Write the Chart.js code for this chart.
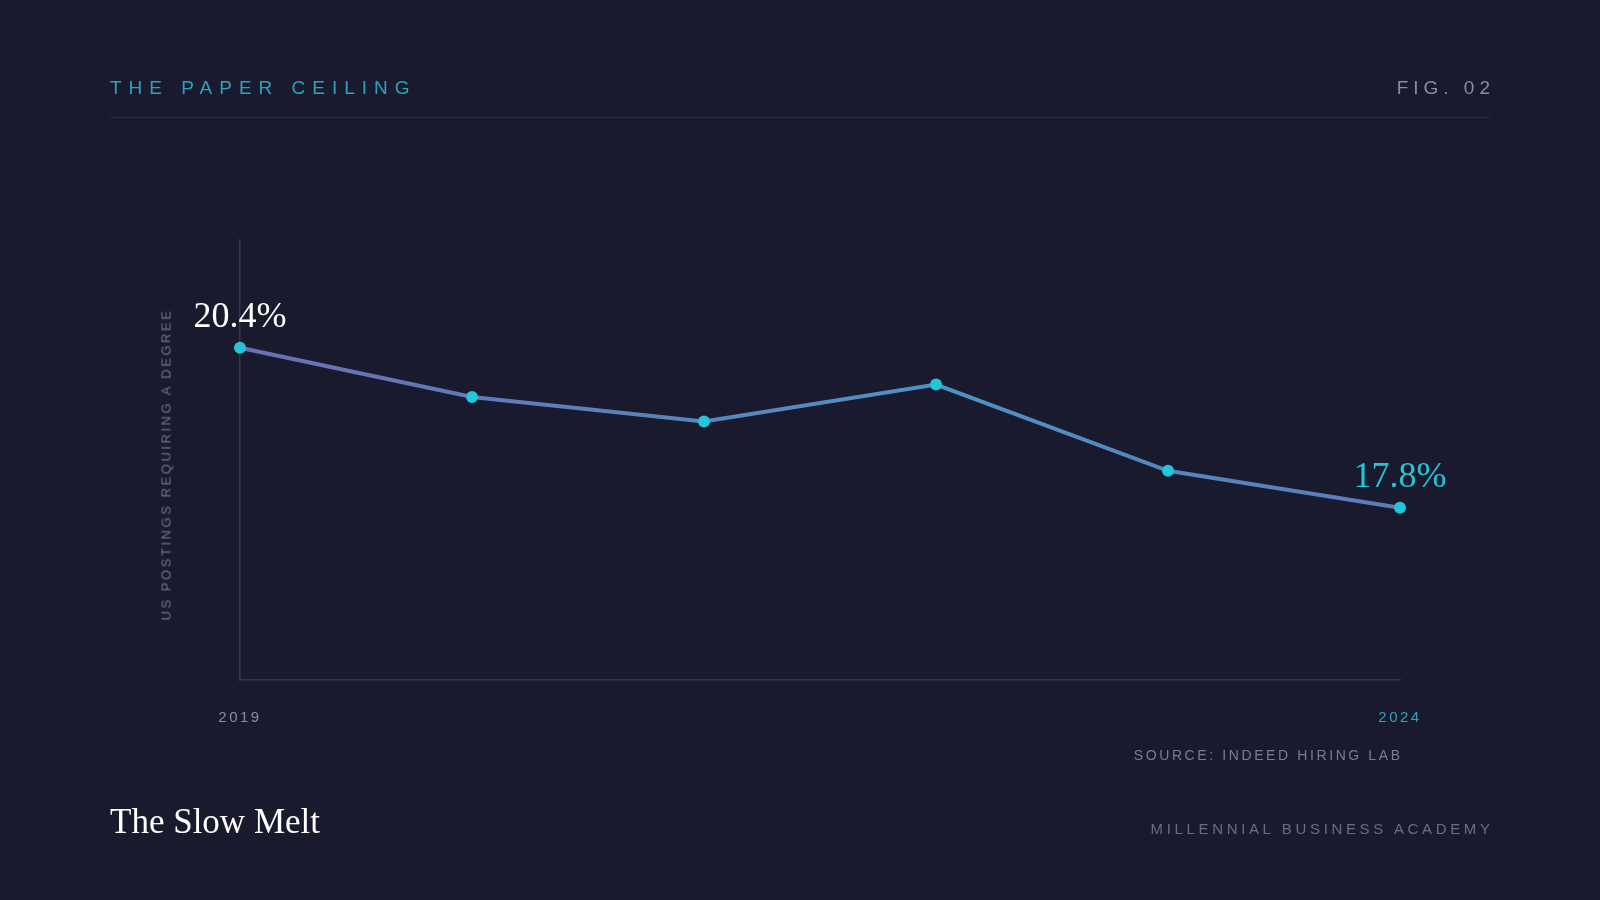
<!DOCTYPE html>
<html>
<head>
<meta charset="utf-8">
<title>The Slow Melt</title>
<script src="https://cdn.jsdelivr.net/npm/chart.js@4.4.0/dist/chart.umd.min.js"></script>
<style>
  html, body { margin: 0; padding: 0; background: #1a1a2e; }
  #page { position: relative; width: 1600px; height: 900px; overflow: hidden; background: #1a1a2e;
          font-family: "Liberation Sans", Arial, sans-serif; }
  #chart { position: absolute; left: 0; top: 0; }
  .txt { position: absolute; white-space: nowrap; line-height: 1; }
  #kicker { left: 110px; top: 78px; font-size: 19px; letter-spacing: 7px; color: #2aa3bf; }
  #fig { right: 110px; top: 78px; font-size: 19px; letter-spacing: 5px; margin-right: -5px; color: #8a8ca2; }
  #rule { position: absolute; left: 110px; top: 117px; width: 1380px; height: 1px; background: #2a2c42; }
  #ytitle { left: -34px; top: 457.5px; width: 400px; text-align: center; font-size: 13px; letter-spacing: 2.55px;
            color: #727489; transform: rotate(-90deg); }
  #source { right: 200px; top: 748px; font-size: 14px; letter-spacing: 2.6px; margin-right: -2.6px; color: #7a7c92; }
  #headline { left: 110px; top: 804px; font-family: "Liberation Serif", "Times New Roman", serif; font-size: 35px; color: #ffffff; }
  #brand { right: 110px; top: 821px; font-size: 15px; letter-spacing: 3.65px; margin-right: -3.65px; color: #6a6c84; }
</style>
</head>
<body>
<div id="page">
  <canvas id="chart" width="1600" height="900"></canvas>
  <div class="txt" id="kicker">THE PAPER CEILING</div>
  <div class="txt" id="fig">FIG. 02</div>
  <div id="rule"></div>
  <div class="txt" id="ytitle">US POSTINGS REQUIRING A DEGREE</div>
  <div class="txt" id="source">SOURCE: INDEED HIRING LAB</div>
  <div class="txt" id="headline">The Slow Melt</div>
  <div class="txt" id="brand">MILLENNIAL BUSINESS ACADEMY</div>
</div>
<script>
// data
const years = ['2019', '2020', '2021', '2022', '2023', '2024'];
const shares = [20.4, 19.6, 19.2, 19.8, 18.4, 17.8];
const yMin = 15;
const yMax = 22.15;

const TEAL = '#22c6d8';
const LABEL_TEAL = '#2aa3bf';
const GREY = '#8a8ca2';
const AXIS = '#34364f';

// horizontal gradient for the line
function lineGradient(ctx) {
    const chart = ctx.chart;
    const area = chart.chartArea;
    if (!area) return '#6a70b4';
    const g = chart.ctx.createLinearGradient(area.left, 0, area.right, 0);
    g.addColorStop(0, '#6b6fb0');
    g.addColorStop(0.62, '#4d92c4');
    g.addColorStop(1, '#5c7bb9');
    return g;
}

// tracking for the tick labels
const spacing = {
    id: 'spacing',
    beforeDraw(chart) { chart.ctx.letterSpacing = '2.5px'; }
};

// first / last value labels
const endLabels = {
    id: 'endLabels',
    afterDatasetsDraw(chart) {
        const meta = chart.getDatasetMeta(0);
        const ctx = chart.ctx;
        const last = meta.data.length - 1;
        ctx.save();
        ctx.letterSpacing = '0px';
        ctx.font = '36px "Liberation Serif", "Times New Roman", serif';
        ctx.textAlign = 'center';
        ctx.textBaseline = 'alphabetic';
        [0, last].forEach(i => {
            const p = meta.data[i];
            ctx.fillStyle = i === 0 ? '#ffffff' : TEAL;
            ctx.fillText(shares[i].toFixed(1) + '%', p.x, p.y - 21);
        });
        ctx.restore();
    }
};

const lastIdx = years.length - 1;

new Chart(document.getElementById('chart'), {
    type: 'line',
    data: {
        labels: years,
        datasets: [{
            data: shares,
            borderColor: lineGradient,
            borderWidth: 4,
            tension: 0,
            fill: false,
            pointRadius: 6,
            pointBorderWidth: 0,
            pointBackgroundColor: TEAL,
            pointHoverRadius: 6,
            clip: false
        }]
    },
    options: {
        responsive: false,
        animation: false,
        events: [],
        layout: { padding: { left: 240, right: 200, top: 240, bottom: 160 } },
        plugins: { legend: { display: false }, tooltip: { enabled: false } },
        scales: {
            x: {
                grid: { display: false },
                border: { color: AXIS, width: 1.5 },
                afterFit: s => { s.height = 60; },
                ticks: {
                    autoSkip: false, maxRotation: 0, padding: 21,
                    font: { family: '"Liberation Sans", Arial, sans-serif', size: 15 },
                    color: c => c.index === lastIdx ? LABEL_TEAL : GREY,
                    callback: (v, i) => (i === 0 || i === lastIdx) ? years[i] : ''
                }
            },
            y: {
                min: yMin, max: yMax,
                grid: { display: false },
                ticks: { display: false },
                border: { color: AXIS, width: 1.5 },
                afterFit: s => { s.width = 0; }
            }
        }
    },
    plugins: [spacing, endLabels]
});
</script>
</body>
</html>
